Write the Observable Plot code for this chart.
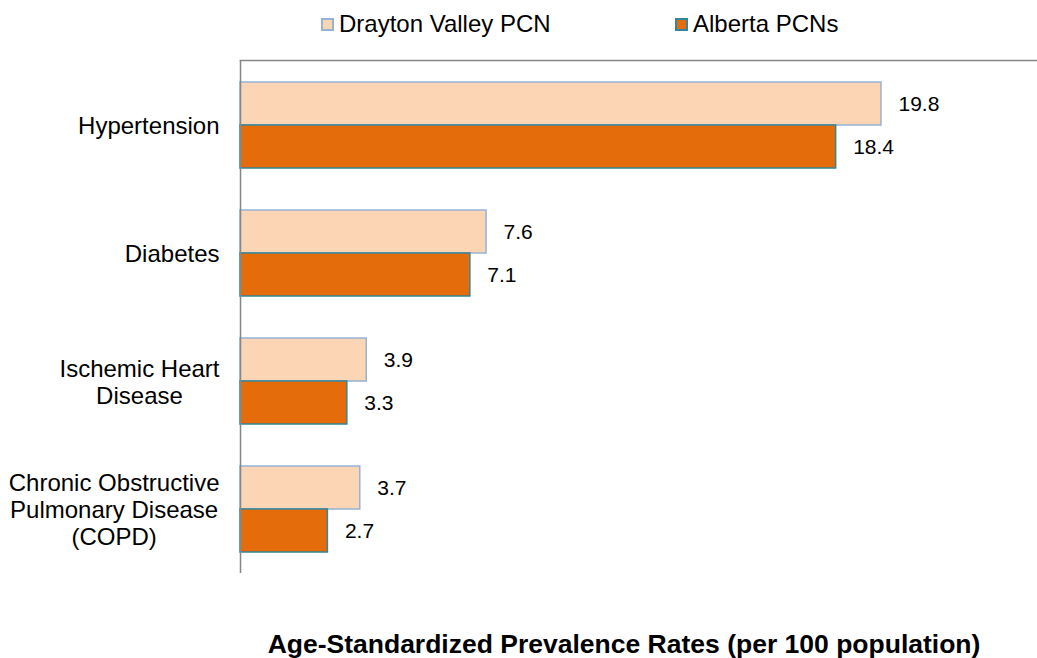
<!DOCTYPE html>
<html>
<head>
<meta charset="utf-8">
<script src="https://cdn.jsdelivr.net/npm/d3@7"></script>
<script src="https://cdn.jsdelivr.net/npm/@observablehq/plot@0.6"></script>
<style>
  html, body { margin: 0; padding: 0; background: #fff; }
  #wrap { position: relative; width: 1037px; height: 658px; font-family: "Liberation Sans", Arial, sans-serif; color: #000; }
  #legend { position: relative; height: 45px; }
  .item { position: absolute; top: 12px; display: flex; align-items: center; font-size: 24px; line-height: 24px; white-space: nowrap; }
  .sw { width: 13px; height: 13px; box-sizing: border-box; border: 2px solid; margin-right: 5px; }
  #title { position: absolute; top: 632px; left: 224px; width: 800px; text-align: center; font-weight: bold; font-size: 26.5px; line-height: 24px; white-space: nowrap; }
  svg { display: block; }
</style>
</head>
<body>
<div id="wrap">
  <div id="legend"></div>
  <div id="chart"></div>
  <div id="title"></div>
</div>
<script>
// ---- data ----
const categories = [
  "Hypertension",
  "Diabetes",
  "Ischemic Heart\nDisease",
  "Chronic Obstructive\nPulmonary Disease\n(COPD)"
];
const seriesNames = ["Drayton Valley PCN", "Alberta PCNs"];
const draytonValues = [19.8, 7.6, 3.9, 3.7];
const albertaValues = [18.4, 7.1, 3.3, 2.7];
const xLabel = "Age-Standardized Prevalence Rates (per 100 population)";

// ---- styles ----
const fills = ["#FCD5B5", "#E46C0A"];
const strokes = ["#95B3D7", "#31859C"];
const font = "Liberation Sans, Arial, sans-serif";

const drayton = categories.map((c, i) => ({category: c, value: draytonValues[i]}));
const alberta = categories.map((c, i) => ({category: c, value: albertaValues[i]}));

// legend
const legend = document.getElementById("legend");
const legendLeft = [321, 675];
seriesNames.forEach((s, i) => {
  const it = document.createElement("div");
  it.className = "item";
  it.style.left = legendLeft[i] + "px";
  const sw = document.createElement("span");
  sw.className = "sw";
  sw.style.background = fills[i];
  sw.style.borderColor = strokes[i];
  const tx = document.createElement("span");
  tx.textContent = s;
  it.appendChild(sw); it.appendChild(tx);
  legend.appendChild(it);
});
document.getElementById("title").textContent = xLabel;

// layout
const H = 545, mTop = 15, mBottom = 17;
const paddingInner = 0.33, paddingOuter = 0.165;
const step = (H - mTop - mBottom) / categories.length;
const bw = step * (1 - paddingInner);

// measure label widths for centered multi-line labels
const ctx = document.createElement("canvas").getContext("2d");
const labelSize = 24;
ctx.font = `${labelSize}px "Liberation Sans"`;
const labelMarks = categories.map(c => {
  const w = d3.max(c.split("\n"), l => ctx.measureText(l).width);
  return Plot.text([c], {
    y: d => d, text: d => d, frameAnchor: "left", textAnchor: "middle",
    dx: -(21 + w / 2), fontSize: labelSize, lineHeight: 1.12, fill: "#000"
  });
});

const chart = Plot.plot({
  width: 1037,
  height: H,
  marginLeft: 240,
  marginRight: 0,
  marginTop: mTop,
  marginBottom: mBottom,
  style: {fontFamily: font, background: "#fff"},
  x: {domain: [0, 24.62], axis: null},
  y: {domain: categories, paddingInner, paddingOuter, axis: null},
  marks: [
    Plot.barX(drayton, {x: "value", y: "category", fill: fills[0], stroke: strokes[0], strokeWidth: 1.5, insetBottom: bw / 2}),
    Plot.barX(alberta, {x: "value", y: "category", fill: fills[1], stroke: strokes[1], strokeWidth: 1.5, insetTop: bw / 2}),
    Plot.text(drayton, {x: "value", y: "category", text: d => d.value.toFixed(1), dx: 17, dy: -bw / 4, textAnchor: "start", fontSize: 21, fill: "#000"}),
    Plot.text(alberta, {x: "value", y: "category", text: d => d.value.toFixed(1), dx: 17, dy: bw / 4, textAnchor: "start", fontSize: 21, fill: "#000"}),
    ...labelMarks,
    Plot.ruleX([0], {stroke: "#868686", strokeWidth: 1.5}),
    Plot.frame({anchor: "top", stroke: "#868686", strokeWidth: 1.5})
  ]
});
document.getElementById("chart").appendChild(chart);
</script>
</body>
</html>
